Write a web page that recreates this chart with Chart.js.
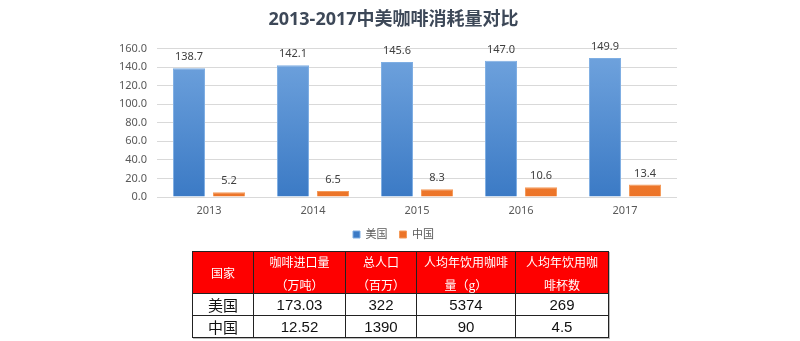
<!DOCTYPE html>
<html>
<head>
<meta charset="utf-8">
<script src="https://cdn.jsdelivr.net/npm/chart.js@4/dist/chart.umd.min.js"></script>
<style>
  html, body { margin: 0; padding: 0; background: #fff; }
  body { width: 800px; height: 341px; position: relative; overflow: hidden; }
  #wrap { position: absolute; left: 0; top: 0; width: 800px; height: 252px; }
  #stats {
    position: absolute; left: 192px; top: 251px;
    display: grid;
    grid-template-columns: 61px 92px 71px 99px 93px;
    grid-template-rows: 42px 22px 22px;
    border-top: 1px solid #222; border-left: 1px solid #222;
    box-shadow: 1px 1px 0 #bbb;
    background: #fff;
  }
  #stats div {
    border-right: 1px solid #222; border-bottom: 1px solid #222;
    display: flex; align-items: center; justify-content: center;
    text-align: center; box-sizing: border-box; overflow: visible;
  }
  #stats .th {
    background: #fe0000; color: #fff;
    font: 12px "Noto Sans CJK SC", sans-serif; line-height: 23px;
  }
  #stats .td {
    color: #111;
    font: 15px "Liberation Sans", "Noto Sans CJK SC", sans-serif;
  }
</style>
</head>
<body>
<div id="wrap"><canvas id="c" width="800" height="252"></canvas></div>
<div id="stats"></div>
<script>
// Annual coffee consumption (10k tonnes)
const years = ['2013', '2014', '2015', '2016', '2017'];
const usValues = [138.7, 142.1, 145.6, 147.0, 149.9];
const cnValues = [5.2, 6.5, 8.3, 10.6, 13.4];
const seriesNames = ['美国', '中国'];
const yTicks = [0, 20, 40, 60, 80, 100, 120, 140, 160];

// Comparison table
const tableHeader = ['国家', '咖啡进口量<br>（万吨）', '总人口<br>（百万）', '人均年饮用咖啡<br>量（g）', '人均年饮用咖<br>啡杯数'];
const usRow = ['美国', '173.03', '322', '5374', '269'];
const cnRow = ['中国', '12.52', '1390', '90', '4.5'];

const stats = document.getElementById('stats');
function addRow(cells, cls) {
  cells.forEach(t => {
    const d = document.createElement('div');
    d.className = cls;
    d.innerHTML = t;
    stats.appendChild(d);
  });
}
addRow(tableHeader, 'th');
addRow(usRow, 'td');
addRow(cnRow, 'td');

Chart.defaults.font.family = "'Noto Sans', 'Noto Sans CJK SC', sans-serif";
Chart.defaults.font.size = 11;
Chart.defaults.color = '#595959';

function vGradient(ctx, top, bottom) {
  const chart = ctx.chart;
  const area = chart.chartArea;
  if (!area) return bottom;
  const g = chart.ctx.createLinearGradient(0, area.top, 0, area.bottom);
  g.addColorStop(0, top);
  g.addColorStop(1, bottom);
  return g;
}

// Value labels above each bar
const valueLabels = {
  id: 'valueLabels',
  afterDatasetsDraw(chart) {
    const ctx = chart.ctx;
    ctx.save();
    ctx.font = "11px 'Noto Sans', sans-serif";
    ctx.fillStyle = '#404040';
    ctx.textAlign = 'center';
    ctx.textBaseline = 'middle';
    chart.data.datasets.forEach((ds, i) => {
      chart.getDatasetMeta(i).data.forEach((bar, j) => {
        ctx.fillText(ds.data[j].toFixed(1), bar.x, bar.y - 11);
      });
    });
    ctx.restore();
  }
};

new Chart(document.getElementById('c'), {
  type: 'bar',
  data: {
    labels: years,
    datasets: [
      {
        label: seriesNames[0],
        data: usValues,
        backgroundColor: ctx => vGradient(ctx, '#71a4de', '#3b7ac5'),
        borderColor: '#7eaee3',
        borderWidth: 1,
        categoryPercentage: 0.77,
        barPercentage: 0.8
      },
      {
        label: seriesNames[1],
        data: cnValues,
        backgroundColor: ctx => vGradient(ctx, '#f79a52', '#ec7428'),
        borderColor: '#f49a5a',
        borderWidth: 1,
        categoryPercentage: 0.77,
        barPercentage: 0.8
      }
    ]
  },
  options: {
    responsive: false,
    animation: false,
    layout: { padding: { left: 110, right: 123, top: 0, bottom: 2 } },
    plugins: {
      title: {
        display: true,
        text: '2013-2017中美咖啡消耗量对比',
        color: '#3d4858',
        font: { size: 18, weight: 'bold', family: "'Noto Sans', 'Noto Sans CJK SC', sans-serif" },
        padding: { top: 9, bottom: 18 }
      },
      legend: {
        position: 'bottom',
        labels: {
          boxWidth: 7, boxHeight: 7, padding: 12,
          color: '#595959', font: { size: 11 }
        }
      },
      tooltip: { enabled: false }
    },
    scales: {
      x: {
        grid: { display: false, drawTicks: false },
        border: { display: false },
        ticks: { padding: 7, color: '#595959' },
        afterFit: s => { s.height = 20; }
      },
      y: {
        min: 0, max: 160,
        afterBuildTicks: s => { s.ticks = yTicks.map(v => ({ value: v })); },
        ticks: { padding: 10, color: '#595959', callback: v => Number(v).toFixed(1) },
        grid: { color: '#d9d9d9', drawTicks: false },
        border: { display: false },
        afterFit: s => { s.width = 47; }
      }
    }
  },
  plugins: [valueLabels]
});
</script>
</body>
</html>
